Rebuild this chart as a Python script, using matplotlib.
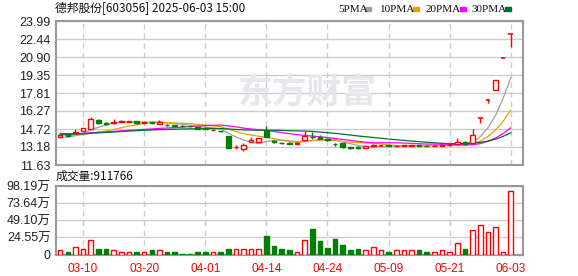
import matplotlib
matplotlib.use('Agg')
import matplotlib.pyplot as plt
from matplotlib.patches import Rectangle
import numpy as np
import pandas as pd

plt.rcParams['font.family'] = ['Liberation Sans', 'Noto Sans CJK SC', 'DejaVu Sans']

dates = ['03-05', '03-06', '03-07', '03-10', '03-11', '03-12', '03-13', '03-14', '03-17', '03-18',
         '03-19', '03-20', '03-21', '03-24', '03-25', '03-26', '03-27', '03-28', '03-31',
         '04-01', '04-02', '04-03', '04-07', '04-08', '04-09', '04-10', '04-11', '04-14', '04-15',
         '04-16', '04-17', '04-18', '04-21', '04-22', '04-23', '04-24', '04-25', '04-28', '04-29', '04-30',
         '05-06', '05-07', '05-08', '05-09', '05-12', '05-13', '05-14', '05-15', '05-16', '05-19',
         '05-20', '05-21', '05-22', '05-23', '05-26', '05-27', '05-28', '05-29', '05-30', '06-03']

open_ = [14.02, 14.27, 14.35, 14.58, 14.72, 15.52, 15.24, 15.20, 15.33, 15.34,
         15.38, 15.24, 15.30, 15.15, 15.10, 15.04, 15.00, 14.98, 14.88, 14.80,
         14.62, 14.56, 14.10, 13.15, 13.00, 13.60, 13.60, 14.52, 13.72, 13.54,
         13.54, 13.46, 13.79, 14.05, 14.02, 13.90, 13.45, 13.51, 13.14, 13.18,
         13.10, 13.26, 13.27, 13.34, 13.26, 13.28, 13.30, 13.34, 13.30, 13.27,
         13.29, 13.32, 13.40, 13.60, 13.51, 15.64, 17.20, 18.03, 20.81, 22.89]
high = [14.20, 14.30, 14.72, 14.82, 15.76, 15.58, 15.33, 15.60, 15.45, 15.40,
        15.42, 15.35, 15.36, 15.45, 15.16, 15.08, 15.04, 15.02, 14.92, 14.85,
        14.68, 14.58, 14.15, 13.32, 13.51, 14.00, 13.95, 15.00, 13.78, 13.60,
        13.58, 13.58, 14.52, 14.44, 14.21, 13.95, 13.50, 13.55, 13.20, 13.22,
        13.30, 13.40, 13.33, 13.36, 13.34, 13.36, 13.38, 13.36, 13.33, 13.32,
        13.38, 13.40, 13.96, 13.72, 14.69, 15.64, 17.20, 18.92, 20.81, 22.89]
low = [13.93, 14.12, 14.33, 14.55, 14.70, 15.14, 15.08, 15.18, 15.28, 15.30,
       15.18, 15.20, 15.22, 15.12, 15.00, 14.95, 14.93, 14.92, 14.70, 14.70,
       14.60, 14.50, 13.10, 13.04, 12.87, 13.58, 13.58, 14.00, 13.55, 13.45,
       13.42, 13.44, 13.75, 13.82, 13.82, 13.70, 13.30, 13.09, 13.02, 13.02,
       13.08, 13.20, 13.24, 13.24, 13.22, 13.25, 13.28, 13.26, 13.24, 13.25,
       13.27, 13.30, 13.38, 13.38, 13.48, 15.23, 16.97, 18.03, 20.81, 21.77]
close = [14.19, 14.16, 14.50, 14.80, 15.60, 15.25, 15.18, 15.28, 15.38, 15.38,
         15.22, 15.30, 15.26, 15.32, 15.05, 15.00, 14.96, 14.95, 14.74, 14.76,
         14.66, 14.53, 13.12, 13.18, 13.37, 13.74, 13.93, 14.02, 13.62, 13.50,
         13.46, 13.54, 14.10, 14.00, 13.85, 13.75, 13.40, 13.18, 13.10, 13.09,
         13.28, 13.31, 13.29, 13.26, 13.30, 13.32, 13.34, 13.30, 13.27, 13.30,
         13.34, 13.36, 13.60, 13.42, 14.24, 15.64, 17.20, 18.92, 20.81, 22.89]
# closes before 03-05, only used to warm up the moving averages
prior_close = [14.10, 14.18, 14.22, 14.12, 14.08, 14.15, 14.20, 14.16, 14.10, 14.19,
               14.35, 14.48, 14.52, 14.44, 14.40, 14.50, 14.46, 14.42, 14.47, 14.46,
               14.42, 14.38, 14.45, 14.36, 14.39, 14.10, 13.95, 13.90, 13.96]
# volume in 万 (10k shares)
volume = [5.75, 4.3, 11.0, 7.2, 20.1, 8.6, 7.2, 6.7, 4.3, 2.9,
          2.9, 2.9, 5.75, 5.75, 2.9, 2.9, 1.4, 1.4, 2.9, 2.9,
          2.9, 4.3, 8.6, 8.6, 7.2, 8.6, 7.2, 25.9, 11.5, 7.2,
          5.75, 3.8, 21.0, 36.0, 20.0, 10.0, 21.6, 13.0, 5.75, 7.2,
          6.7, 11.0, 5.75, 4.3, 5.75, 5.75, 6.7, 5.75, 4.3, 2.9,
          5.75, 3.8, 15.8, 7.2, 35.5, 43.0, 32.6, 39.8, 2.9, 91.1766]

price_ticks = [11.63, 13.18, 14.72, 16.27, 17.81, 19.35, 20.90, 22.44, 23.99]
vol_ticks = [0, 24.55, 49.10, 73.64, 98.19]
vol_labels = ['0', '24.55万', '49.10万', '73.64万', '98.19万']
tick_dates = ['03-10', '03-20', '04-01', '04-14', '04-24', '05-09', '05-21', '06-03']
ma_windows = [5, 10, 20, 30]
ma_colors = ['#a0a0a0', '#f0a000', '#ff00ff', '#007030']

RED = '#ff0000'
GREEN = '#008000'
GRID = '#cccccc'
BORDER = '#999999'

W, H = 578, 276
fig = plt.figure(figsize=(W / 100, H / 100), dpi=100)

def px_axes(left, top, right, bottom):
    return fig.add_axes([left / W, 1 - bottom / H, (right - left) / W, (bottom - top) / H])

# watermark behind everything
fig.text(238 / W, 1 - 92 / H, '东方财富', fontsize=25, fontweight='bold',
         color='#e6e6ec', ha='left', va='center', family=['Noto Sans CJK SC'], zorder=0)

ax = px_axes(56, 21, 523, 165)
axv = px_axes(56, 186, 523, 254.5)
ax.patch.set_alpha(0)

x = np.arange(len(dates))
o = np.array(open_); h = np.array(high); l = np.array(low); c = np.array(close)
up = c >= o

# moving averages
allc = pd.Series(prior_close + close)
for w, col in zip(ma_windows, ma_colors):
    ma = allc.rolling(w).mean().values[len(prior_close):]
    ax.plot(x, ma, color=col, lw=0.9, zorder=2)

# candles
bw = 0.6
for i in range(len(x)):
    col = RED if up[i] else GREEN
    lo_b, hi_b = min(o[i], c[i]), max(o[i], c[i])
    ax.vlines(x[i], l[i], lo_b, color=col, lw=1, zorder=3)
    ax.vlines(x[i], hi_b, h[i], color=col, lw=1, zorder=3)
    if hi_b - lo_b < 0.02:
        ax.hlines(o[i], x[i] - bw / 2, x[i] + bw / 2, color=col, lw=1.2, zorder=4)
    else:
        ax.bar(x[i], hi_b - lo_b, bottom=lo_b, width=bw,
               color='white' if up[i] else GREEN, edgecolor=col, lw=1, zorder=4)

# volume bars
for i in range(len(x)):
    if up[i]:
        axv.bar(x[i], volume[i], width=bw, color='white', edgecolor=RED, lw=1, zorder=3)
    else:
        axv.bar(x[i], volume[i], width=bw, color=GREEN, edgecolor=GREEN, lw=1, zorder=3)

tick_pos = [dates.index(d) for d in tick_dates]
for a in (ax, axv):
    a.set_xlim(-0.55, 60.6)
    a.set_xticks(tick_pos)
    a.grid(axis='y', color=GRID, lw=1, zorder=0)
    for p in tick_pos:
        a.axvline(p, color=GRID, lw=1, ls=(0, (4, 3)), zorder=0)
    a.tick_params(length=0, labelsize=9, colors='#222222', pad=4)
    for s in a.spines.values():
        s.set_color(BORDER)
        s.set_linewidth(1.5)

ax.set_ylim(price_ticks[0], price_ticks[-1])
ax.set_yticks(price_ticks)
ax.set_yticklabels([f'{t:.2f}' for t in price_ticks])
ax.set_xticklabels([])

axv.set_ylim(0, vol_ticks[-1])
axv.set_yticks(vol_ticks)
axv.set_yticklabels(vol_labels)
axv.set_xticklabels(tick_dates, color=RED, fontsize=8.5)
axv.tick_params(axis='x', pad=6)

# title, legend and volume label
fig.text(55 / W, 1 - 9 / H, '德邦股份[603056] 2025-06-03 15:00', fontsize=8.5,
         family=['Noto Sans CJK SC'], color='#111111', va='center', ha='left')
leg_text_x = [338, 380, 426, 472]
leg_box_x = [365, 413, 460, 505]
for w, col, tx, bx in zip(ma_windows, ma_colors, leg_text_x, leg_box_x):
    fig.text(tx / W, 1 - 9 / H, f'{w}PMA', fontsize=8, family=['Liberation Serif'],
             color='#111111', va='center', ha='left')
    fig.add_artist(Rectangle((bx / W, 1 - 10.5 / H), 6 / W, 3 / H, color=col,
                             transform=fig.transFigure))
fig.text(56 / W, 1 - 176 / H, f'成交量:{int(round(volume[-1] * 10000))}', fontsize=8.5,
         family=['Noto Sans CJK SC'], color='#111111', va='center', ha='left')

fig.savefig('out.png', dpi=100)
